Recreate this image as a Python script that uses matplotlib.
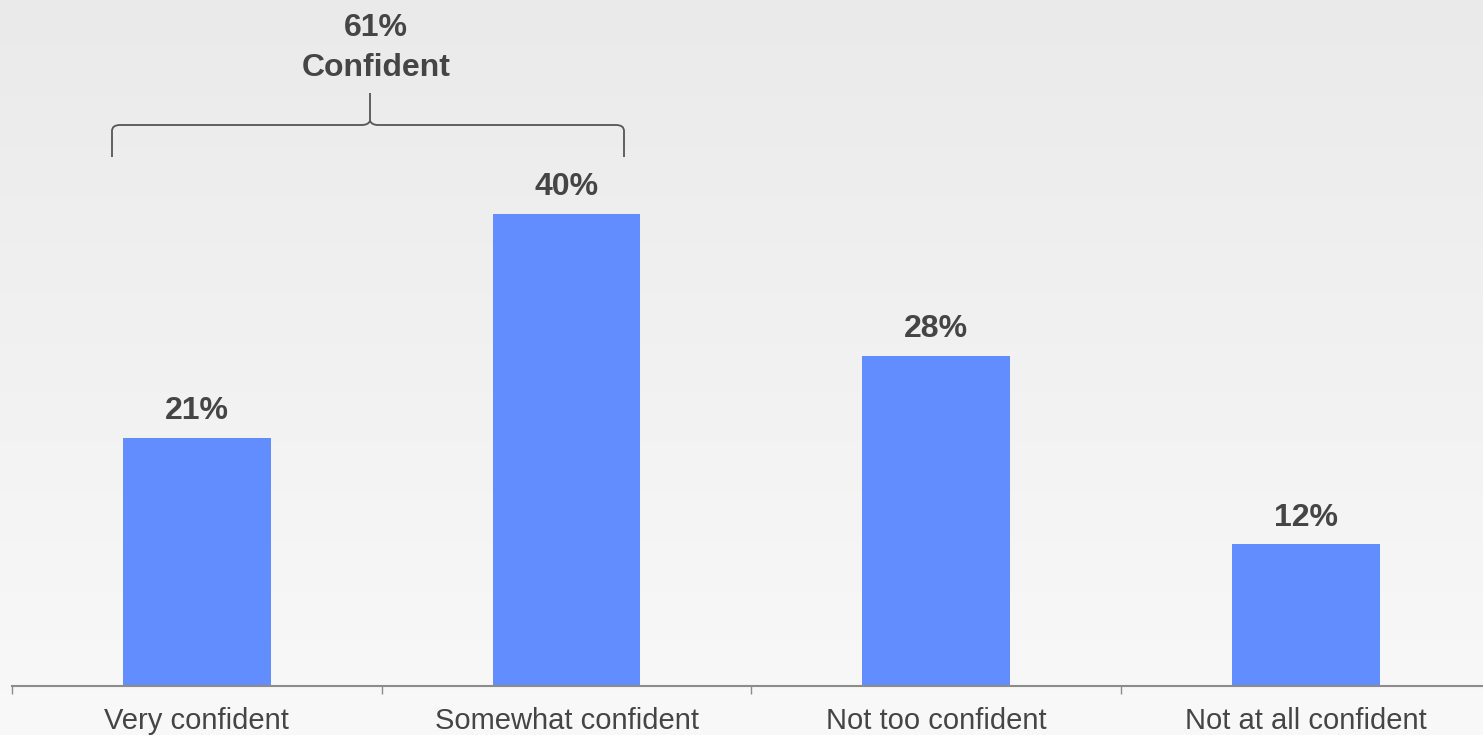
import numpy as np
import matplotlib.pyplot as plt
from matplotlib.path import Path
from matplotlib.patches import PathPatch

plt.rcParams['font.family'] = ['Liberation Sans', 'DejaVu Sans']

categories = ["Very confident", "Somewhat confident", "Not too confident", "Not at all confident"]
values = [21, 40, 28, 12]
group_total = 61
group_label = "Confident"

W, H = 1483, 735
fig = plt.figure(figsize=(W / 100, H / 100), dpi=100)

# soft vertical background gradient
bg = fig.add_axes([0, 0, 1, 1], zorder=0)
grad = np.linspace(0, 1, 256).reshape(-1, 1)
top_c = np.array([0.918, 0.918, 0.918])
bot_c = np.array([0.976, 0.976, 0.976])
img = top_c + (bot_c - top_c) * grad[..., None]
bg.imshow(img, aspect='auto', extent=[0, W, H, 0])
bg.set_xlim(0, W)
bg.set_ylim(H, 0)
bg.axis('off')

axis_y = 686
ax = fig.add_axes([12 / W, (H - axis_y) / H, (W - 12) / W, axis_y / H], zorder=1)
ax.patch.set_alpha(0)
x = np.arange(len(categories))
px_per_cat = 369.7
ax.set_xlim(-0.5, -0.5 + (W - 12) / px_per_cat)
ax.set_ylim(0, axis_y / 11.8)

text_c = '#454545'
ax.bar(x, values, width=0.4, color='#628dff', zorder=2)
for xi, v in zip(x, values):
    ax.text(xi, v + 1.0, f"{v}%", ha='center', va='bottom',
            fontsize=23, fontweight='bold', color=text_c)

for s in ['top', 'right', 'left']:
    ax.spines[s].set_visible(False)
ax.spines['bottom'].set_color('#8c8c8c')
ax.spines['bottom'].set_linewidth(1.5)
ax.set_yticks([])
ax.set_xticks(np.arange(-0.5, len(categories) - 0.5, 1.0))
ax.set_xticklabels([])
ax.tick_params(axis='x', which='major', length=6, color='#8c8c8c', width=1)
ax.set_xticks(x, minor=True)
ax.set_xticklabels(categories, minor=True)
ax.tick_params(axis='x', which='minor', length=0, pad=15, labelsize=21, labelcolor=text_c)

# curly brace over the first two bars
l, r, cx = 112, 624, 370
yb, yh, yt = 157, 125, 93
verts = [
    (l, yb), (l, yh + 6), (l, yh), (l + 8, yh),
    (cx - 8, yh), (cx - 2, yh), (cx, yh - 4), (cx, yt),
]
codes = [Path.MOVETO, Path.LINETO, Path.CURVE3, Path.CURVE3,
         Path.LINETO, Path.CURVE3, Path.CURVE3, Path.LINETO]
verts2 = [
    (r, yb), (r, yh + 6), (r, yh), (r - 8, yh),
    (cx + 8, yh), (cx + 2, yh), (cx, yh - 4),
]
codes2 = [Path.MOVETO, Path.LINETO, Path.CURVE3, Path.CURVE3,
          Path.LINETO, Path.CURVE3, Path.CURVE3]
for vv, cc in [(verts, codes), (verts2, codes2)]:
    bg.add_patch(PathPatch(Path(vv, cc), fill=False, edgecolor='#555555', lw=1.3, zorder=3))

bg.text(376, 48, f"{group_total}%\n{group_label}", ha='center', va='center',
        fontsize=23, fontweight='bold', color=text_c, linespacing=1.4, zorder=3)

fig.savefig('out.png', dpi=100)
